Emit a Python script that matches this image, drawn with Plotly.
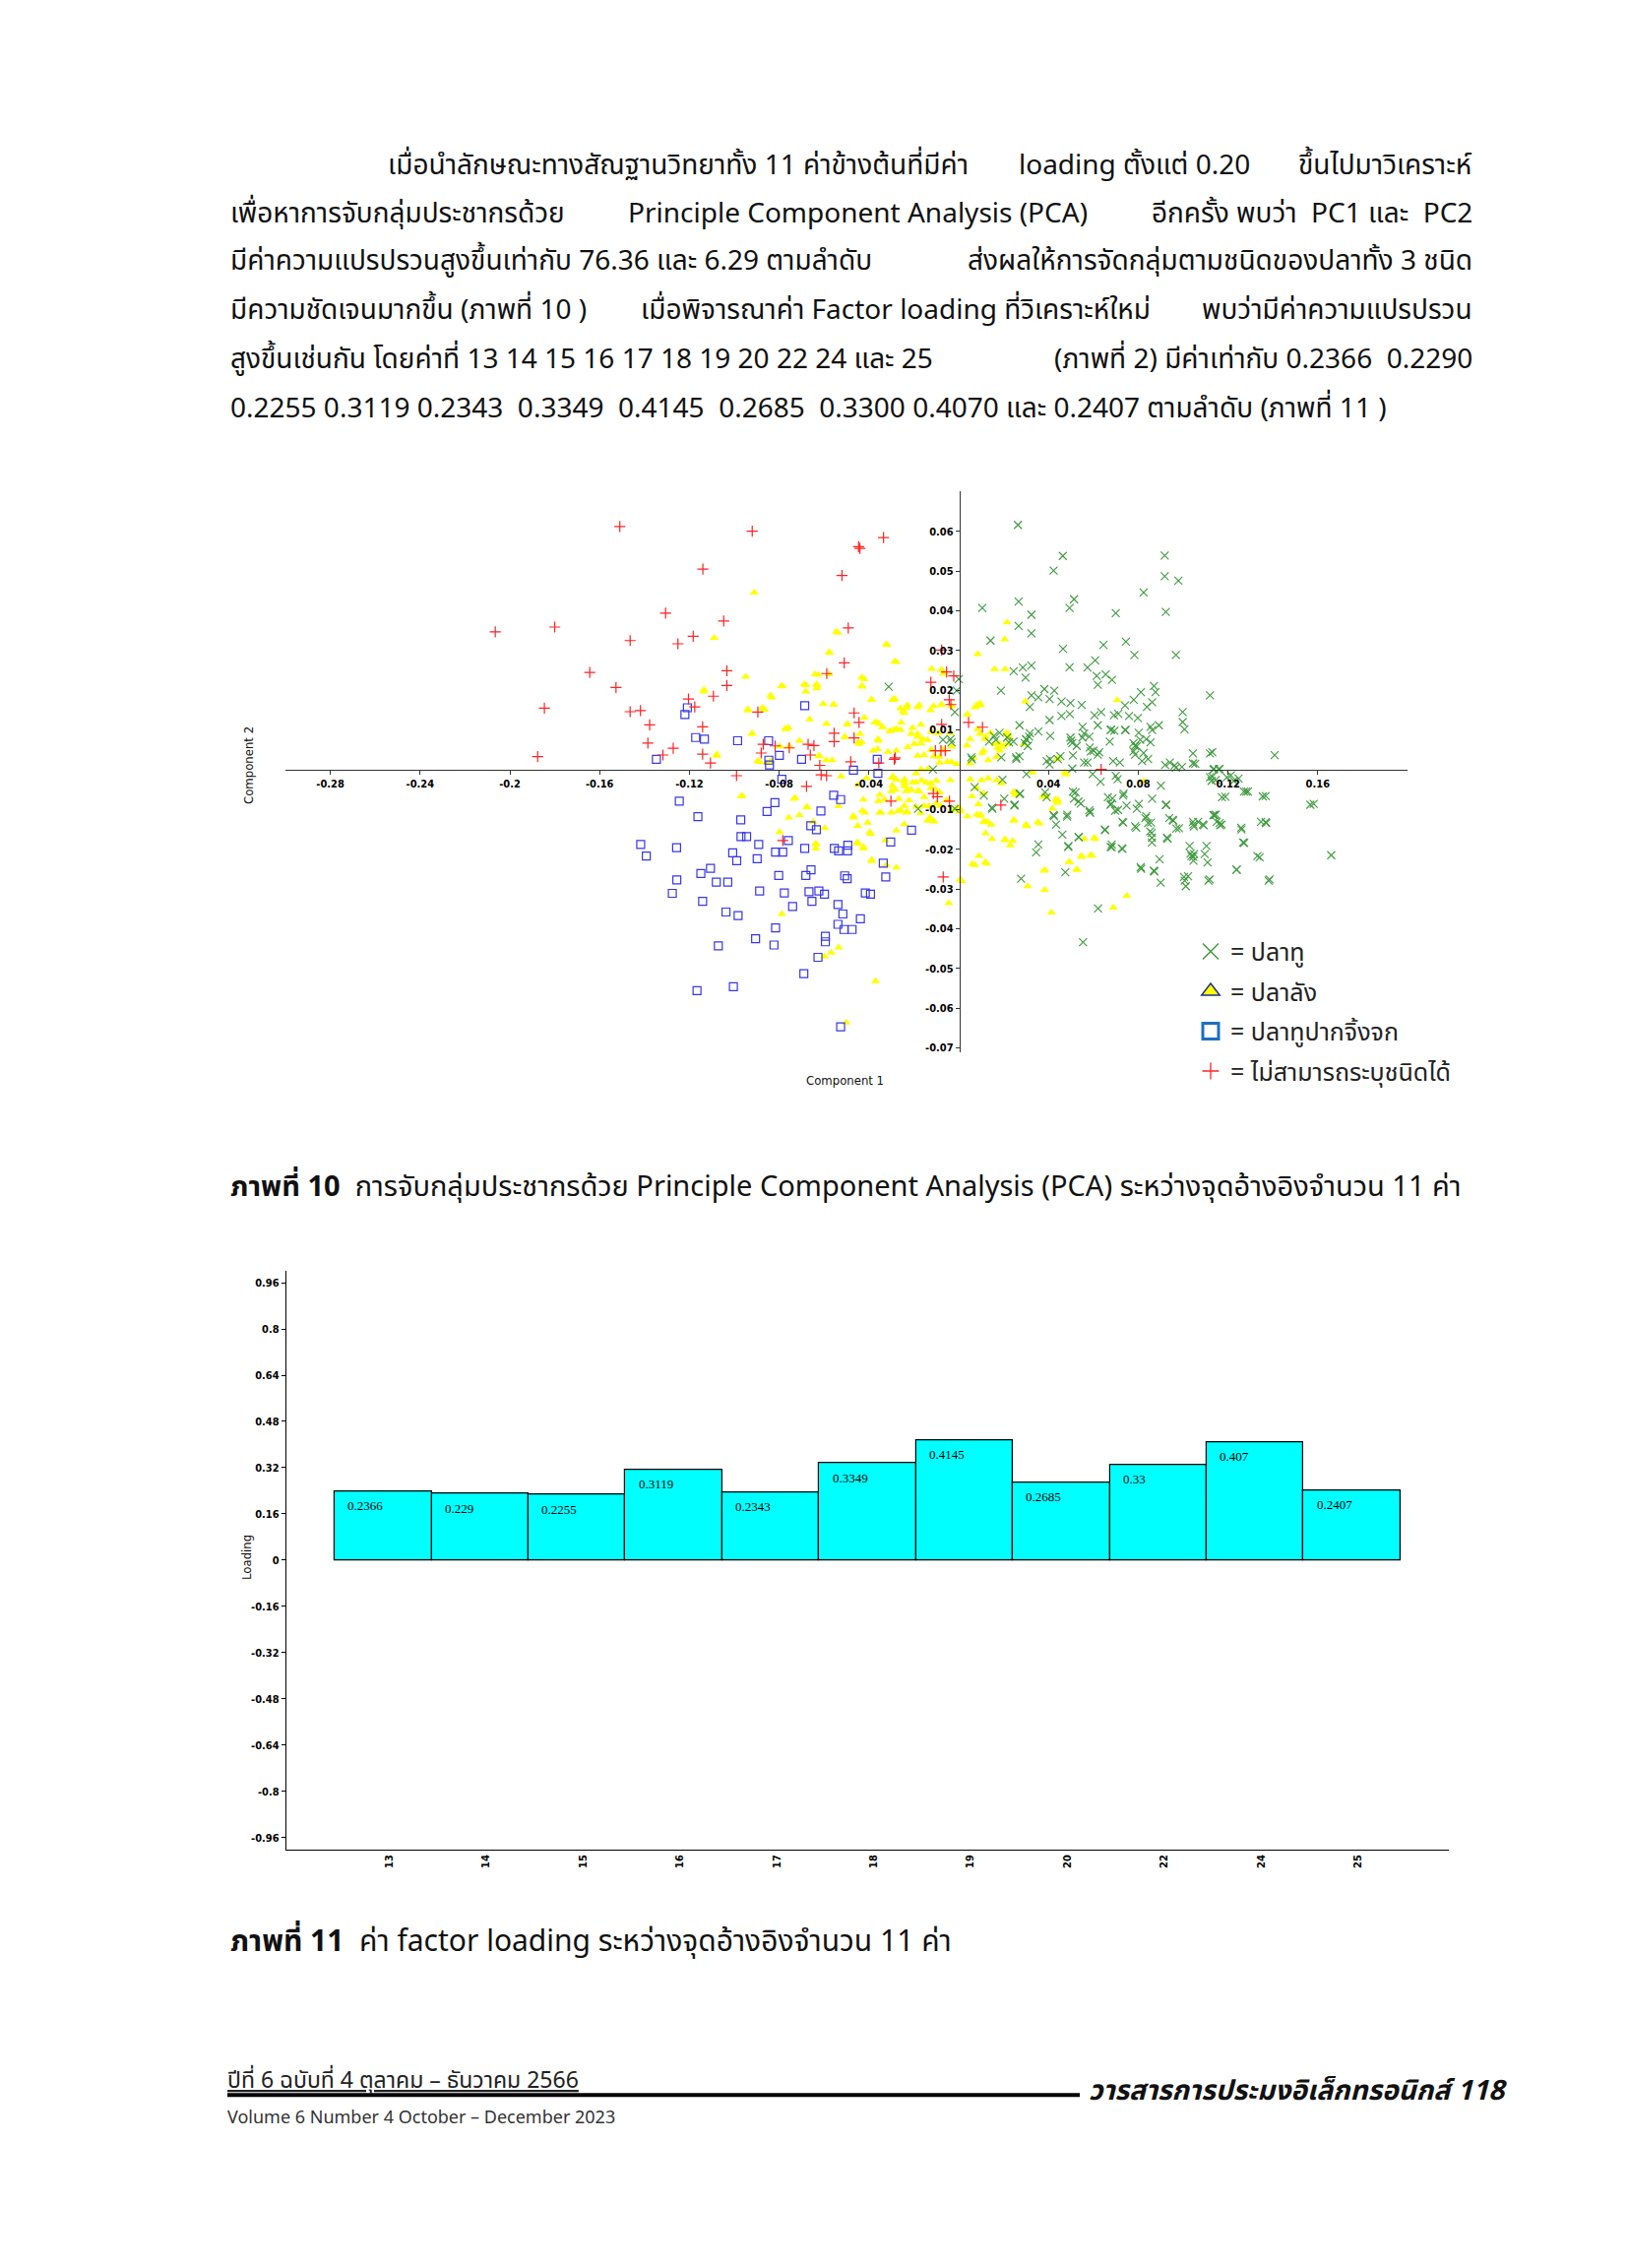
import plotly.graph_objects as go

W, H = 1654, 2304
def fx(px): return px / W
def fy(py): return 1 - py / H

THAI = "Noto Sans Thai, Noto Sans Thai UI, Noto Sans, sans-serif"
AXF = "DejaVu Sans Condensed, DejaVu Sans, sans-serif"

# ---------------- PCA scatter data (Component 1, Component 2) ----------------
green_pts = [
    (0.0264,0.0616),(0.0464,0.0538),(0.0423,0.0501),(0.0918,0.0539),(0.0918,0.0487),(0.0979,0.0476),
    (0.0824,0.0446),(0.0514,0.0429),(0.0494,0.0407),(0.0105,0.0407),(0.0267,0.0423),(0.0324,0.0390),
    (0.0700,0.0394),(0.0923,0.0397),(0.0267,0.0362),(0.0324,0.0343),(0.0142,0.0325),(0.0465,0.0304),
    (0.0645,0.0314),(0.0745,0.0322),(0.0783,0.0289),(0.0968,0.0289),(0.0608,0.0275),(0.0494,0.0258),
    (0.0574,0.0257),(0.0245,0.0248),(0.0286,0.0257),(0.0324,0.0262),(0.0298,0.0232),(0.0615,0.0236),
    (0.0655,0.0240),(0.0683,0.0226),(0.0620,0.0214),(0.0188,0.0199),(0.0382,0.0203),(0.0426,0.0199),
    (0.0870,0.0211),(0.0877,0.0195),(0.0812,0.0195),(0.0780,0.0176),(0.1120,0.0187),(0.0324,0.0187),
    (0.0355,0.0182),(0.0405,0.0178),(0.0458,0.0172),(0.0498,0.0168),(0.0548,0.0163),(0.0741,0.0162),
    (0.0839,0.0158),(0.0862,0.0170),(0.0317,0.0158),(0.0605,0.0137),(0.0635,0.0145),(0.0692,0.0137),
    (0.0711,0.0141),(0.0759,0.0135),(0.0798,0.0130),(0.0998,0.0145),(0.0405,0.0125),(0.0458,0.0135),
    (0.0495,0.0140),(0.0892,0.0112),(0.0855,0.0108),(0.0862,0.0100),(0.0998,0.0120),(0.1006,0.0102),
    (0.0271,0.0112),(0.0355,0.0096),(0.0552,0.0108),(0.0620,0.0112),(0.0680,0.0101),(0.0741,0.0100),
    (0.0802,0.0093),(0.0498,0.0081),(0.0506,0.0067),(0.0559,0.0091),(0.0582,0.0083),(0.0673,0.0071),
    (0.0779,0.0067),(0.0794,0.0059),(0.0809,0.0075),(0.0855,0.0069),(0.0314,0.0083),(0.0294,0.0067),
    (0.0302,0.0075),(0.0317,0.0092),(0.0244,0.0071),(0.0165,0.0075),(0.0135,0.0071),(0.0256,0.0031),
    (0.0271,0.0034),(0.0392,0.0022),(0.0405,0.0013),(0.0453,0.0034),(0.0589,0.0046),(0.0620,0.0038),
    (0.0559,0.0018),(0.0574,0.0018),(0.0688,0.0022),(0.0718,0.0018),(0.0779,0.0046),(0.0786,0.0038),
    (0.0824,0.0042),(0.0817,0.0022),(0.1044,0.0041),(0.1120,0.0041),(0.1408,0.0037),(0.1044,0.0016),
    (0.0941,0.0018),(0.0968,0.0005),(0.0506,0.0003),(0.0059,0.0026),(-0.0032,0.0069),
    (0.0071,-0.0044),(0.0112,-0.0065),(0.0150,-0.0098),(0.0195,-0.0025),(0.0203,-0.0073),(0.0248,-0.0090),
    (0.0271,-0.0061),(0.0302,-0.0011),(0.0385,-0.0057),(0.0392,-0.0069),(0.0423,-0.0114),(0.0483,-0.0118),
    (0.0514,-0.0073),(0.0544,-0.0085),(0.0521,-0.0057),(0.0582,-0.0102),(0.0597,-0.0011),(0.0632,-0.0030),
    (0.0665,-0.0069),(0.0680,-0.0085),(0.0708,-0.0024),(0.0700,-0.0015),(0.0733,-0.0065),(0.0748,-0.0090),
    (0.0794,-0.0098),(0.0832,-0.0122),(0.0862,-0.0073),(0.0901,-0.0040),(0.0923,-0.0089),(0.0938,-0.0122),
    (0.1120,-0.0019),(0.1127,-0.0028),(0.1135,0.0001),(0.1158,0.0001),(0.1173,-0.0069),(0.1195,-0.0019),
    (0.1226,-0.0028),(0.1271,-0.0055),(0.1355,-0.0067),(0.1567,-0.0088),(0.1135,-0.0114),(0.1347,-0.0131),
    (0.1044,-0.0131),(0.1067,-0.0131),(0.1150,-0.0131),
    (0.0148,-0.0095),(0.0249,-0.0088),(0.0274,-0.0060),(0.0355,-0.0188),(0.0345,-0.0208),(0.0425,-0.0117),
    (0.0434,-0.0138),(0.0462,-0.0163),(0.0484,-0.0113),(0.0534,-0.0169),(0.0489,-0.0192),(0.0475,-0.0258),
    (0.0278,-0.0274),(0.0509,-0.0055),(0.0534,-0.0080),(0.0584,-0.0107),(0.0601,0.0048),(0.0626,0.0044),
    (0.0652,-0.0150),(0.0677,-0.0088),(0.0685,-0.0072),(0.0682,-0.0188),(0.0677,-0.0194),(0.0727,-0.0198),
    (0.0697,-0.0103),(0.0710,-0.0101),(0.0730,-0.0131),(0.0735,-0.0060),(0.0786,-0.0142),(0.0803,-0.0086),
    (0.0811,-0.0245),(0.0836,-0.0117),(0.0844,-0.0134),(0.0853,-0.0155),(0.0861,-0.0171),(0.0870,-0.0254),
    (0.0861,-0.0183),(0.0895,-0.0225),(0.0900,-0.0284),(0.0925,-0.0088),(0.0928,-0.0171),(0.0954,-0.0126),
    (0.0970,-0.0148),(0.1004,-0.0270),(0.1012,-0.0293),(0.1007,-0.0279),(0.1029,-0.0192),(0.1037,-0.0217),
    (0.1049,-0.0212),(0.1046,-0.0229),(0.1046,-0.0138),(0.1088,-0.0138),(0.1096,-0.0212),(0.1104,-0.0192),
    (0.1109,-0.0233),(0.1113,-0.0279),(0.1146,-0.0113),(0.1163,-0.0134),(0.1172,-0.0138),(0.1188,-0.0068),
    (0.1239,-0.0251),(0.1259,-0.0146),(0.1267,-0.0183),(0.1289,-0.0055),(0.1331,-0.0217),(0.1368,-0.0066),
    (0.1368,-0.0132),(0.1381,-0.0279),(0.1582,-0.0086),(0.1660,-0.0215),(0.0621,-0.0349),(0.0554,-0.0434),
    (0.0584,0.0056),(0.0509,0.0036),(0.0408,0.0026),(0.0257,0.0027),(0.0308,0.0060),(0.0300,0.0077),
    (0.0190,0.0031),(0.0216,0.0081),(0.0157,0.0085),(0.0182,0.0093),(0.0056,0.0031),(-0.0036,0.0077),
    (0.0224,0.0069),(0.0408,0.0085),(0.0442,0.0027),(0.0501,0.0073),(0.0526,0.0060),(0.0551,0.0081),
    (0.0677,0.0100),(0.0694,0.0098),(0.0744,0.0100),(0.0786,0.0060),(0.0836,0.0077),(0.0844,0.0027),
    (0.0920,0.0012),(0.0962,0.0011),(0.0995,0.0007),(0.1130,0.0044),(0.1054,0.0015),(0.1138,0.0002),
    (0.1163,0.0002),(0.1213,-0.0014),(0.1247,-0.0022),(0.1281,-0.0055),(0.1130,-0.0018),(0.1146,-0.0026),
    (0.1045,-0.0219),(0.1033,-0.0211),(0.1022,-0.0268),(0.1118,-0.0276),(0.0813,-0.0249),(0.0872,-0.0256),
    (0.1238,-0.0252),(0.1341,-0.0220),(0.1385,-0.0276),(0.1370,-0.0134),(0.1260,-0.0150),(0.1272,-0.0184),
    (0.1092,-0.0140),(0.1048,-0.0143),(0.1139,-0.0114),(0.1165,-0.0140),(0.0982,-0.0147),(0.0956,-0.0128),
    (0.0931,-0.0174),(0.0857,-0.0133),(0.0860,-0.0159),(0.0791,-0.0146),(0.0730,-0.0199),(0.0682,-0.0195),
    (0.0652,-0.0152),(0.0733,-0.0133),(0.0535,-0.0170),(0.0488,-0.0194),(0.0586,-0.0108),
    (0.0000,0.0228),(-0.0009,0.0199),(-0.0312,0.0209),(-0.0017,0.0145),(-0.0070,0.0075),(-0.0115,0.0001),
    (-0.0181,-0.0098),(-0.0017,-0.0098),
]

yellow_pts = [
    (-0.0538,0.0345),(-0.0318,0.0314),(-0.0574,0.0294),(-0.0278,0.0271),(0.0215,0.0371),(0.0205,0.0328),
    (0.0085,0.0291),(0.0160,0.0253),(0.0207,0.0253),(-0.0120,0.0254),(-0.0069,0.0242),(-0.0626,0.0239),
    (-0.0680,0.0213),(-0.0630,0.0213),(-0.0421,0.0228),(-0.0429,0.0209),(-0.0558,0.0164),(-0.0388,0.0177),
    (-0.0293,0.0177),(-0.0242,0.0143),(-0.0183,0.0157),(-0.0125,0.0150),(-0.0077,0.0164),(0.0073,0.0157),
    (0.0095,0.0167),(0.0039,0.0139),(0.0297,0.0172),(-0.0498,0.0114),(-0.0373,0.0119),(-0.0361,0.0119),
    (-0.0339,0.0107),(-0.0307,0.0097),(-0.0278,0.0102),(-0.0256,0.0119),(-0.0212,0.0090),(-0.0183,0.0090),
    (-0.0161,0.0077),(-0.0139,0.0075),(-0.0440,0.0090),(-0.0444,0.0065),(-0.0359,0.0077),(-0.0508,0.0083),
    (-0.0623,0.0036),(-0.0564,0.0024),(-0.0381,0.0048),(-0.0315,0.0045),(-0.0278,0.0048),(-0.0227,0.0057),
    (-0.0198,0.0065),(-0.0183,0.0035),(-0.0154,0.0037),(-0.0110,0.0034),(-0.0086,0.0033),(-0.0051,0.0020),
    (0.0037,0.0061),(0.0051,0.0077),(0.0095,0.0090),(0.0085,0.0102),(0.0117,0.0077),(0.0110,0.0048),
    (0.0161,0.0065),(0.0183,0.0048),(0.0198,0.0058),(0.0220,0.0090),(0.0216,0.0065),(0.0290,0.0065),
    (0.0051,0.0016),(0.0132,0.0024),(0.0169,0.0032),(0.0440,0.0028),(-0.0447,-0.0038),(-0.0410,-0.0021),
    (-0.0293,-0.0017),(-0.0242,-0.0024),(-0.0190,-0.0009),(-0.0165,-0.0027),(-0.0296,-0.0040),(-0.0242,-0.0041),
    (-0.0212,-0.0050),(-0.0125,-0.0034),(-0.0103,-0.0050),(-0.0037,-0.0026),(-0.0425,-0.0075),(-0.0352,-0.0063),
    (-0.0330,-0.0075),(-0.0242,-0.0091),(-0.0190,-0.0093),(-0.0154,-0.0091),(-0.0132,-0.0092),(-0.0081,-0.0091),
    (-0.0007,-0.0095),(-0.0469,-0.0116),(-0.0418,-0.0108),(-0.0352,-0.0108),(-0.0450,-0.0141),(-0.0392,-0.0161),
    (-0.0139,-0.0128),(-0.0110,-0.0130),(-0.0242,-0.0137),(-0.0278,-0.0153),(-0.0451,-0.0186),(-0.0326,-0.0178),
    (-0.0425,-0.0198),(-0.0637,-0.0186),(-0.0674,-0.0095),(-0.0388,-0.0230),(-0.0322,-0.0240),(-0.0278,-0.0246),
    (0.0051,-0.0024),(0.0102,-0.0026),(0.0132,-0.0022),(0.0169,-0.0026),(0.0190,-0.0034),(0.0080,-0.0046),
    (0.0110,-0.0059),(0.0059,-0.0067),(0.0088,-0.0087),(0.0007,-0.0099),(0.0252,-0.0063),(0.0388,-0.0067),
    (0.0440,-0.0083),(0.0095,-0.0116),(0.0117,-0.0132),(0.0245,-0.0128),(0.0304,-0.0142),(0.0360,-0.0135),
    (0.0120,-0.0160),(0.0205,-0.0177),(0.0230,-0.0190),(0.0559,-0.0174),(0.0149,-0.0174),(0.0073,-0.0240),
    (0.0125,-0.0236),(0.0007,-0.0276),(0.0384,-0.0252),(0.0494,-0.0233),(0.0528,-0.0252),(0.0550,-0.0219),
    (0.0594,-0.0216),(0.0432,-0.0075),
    (-0.1136,0.0197),(-0.1077,0.0035),(-0.0920,0.0091),(-0.0938,0.0149),(-0.0865,0.0151),(-0.0833,0.0182),
    (-0.0784,0.0210),(-0.0770,0.0102),(-0.0758,0.0106),(-0.0681,0.0197),(-0.0633,0.0205),(-0.0664,0.0127),
    (-0.0710,0.0073),(-0.0557,0.0164),(-0.0495,0.0115),(-0.0506,0.0082),(-0.0389,0.0176),(-0.0420,0.0131),
    (-0.0433,0.0069),(-0.0354,0.0115),(-0.0292,0.0176),(-0.0306,0.0098),(-0.0277,0.0102),(-0.0247,0.0147),
    (-0.0232,0.0156),(-0.0358,0.0073),(-0.0361,0.0052),(-0.0446,0.0069),(-0.0887,0.0020),(-0.0855,0.0017),
    (-0.0621,0.0034),(-0.0524,-0.0017),(-0.0590,0.0024),(-0.0970,-0.0067),(-0.0729,-0.0071),(-0.0677,-0.0093),
    (-0.0757,-0.0120),(-0.0710,-0.0114),(-0.0798,-0.0157),(-0.0648,-0.0131),(-0.0597,-0.0147),(-0.0634,-0.0188),
    (-0.0535,-0.0092),(-0.0469,-0.0120),(-0.0429,-0.0103),(-0.0406,-0.0133),(-0.0396,-0.0157),(-0.0451,-0.0182),
    (-0.0425,-0.0194),(-0.0388,-0.0227),(-0.0347,-0.0108),(-0.0300,-0.0108),(-0.0270,-0.0104),(-0.0234,-0.0108),
    (-0.0358,-0.0079),(-0.0300,-0.0054),(-0.0234,-0.0054),(-0.0183,-0.0054),(-0.0278,-0.0025),(-0.0242,-0.0034),
    (-0.0205,-0.0032),(-0.0788,-0.0363),(-0.0535,-0.0447),(-0.0568,-0.0460),(-0.0598,-0.0470),(-0.0370,-0.0532),
    (-0.0501,-0.0636),(-0.0637,-0.0198),
    (-0.1089,0.0332),(-0.0911,0.0446),(-0.0546,0.0347),(-0.0323,0.0316),(-0.0285,0.0273),(-0.0578,0.0296),
    (-0.0640,0.0240),(-0.0578,0.0240),(-0.0949,0.0234),(-0.0790,0.0211),(-0.0688,0.0215),(-0.0634,0.0215),
    (-0.0838,0.0187),(-0.0432,0.0232),(-0.0432,0.0211),(-0.1135,0.0201),(-0.0874,0.0156),(-0.0939,0.0152),
    (-0.0604,0.0166),(-0.0589,0.0116),(-0.0772,0.0104),(-0.0797,0.0059),(-0.0755,0.0059),(-0.0922,0.0091),
    (-0.1078,0.0039),(-0.0895,0.0022),(-0.0838,0.0022),(-0.0964,-0.0066),(-0.0734,-0.0073),
    (0.0111,-0.0131),(0.0127,-0.0131),(0.0098,-0.0113),(0.0081,-0.0113),(0.0145,-0.0138),(0.0207,-0.0175),
    (0.0241,-0.0179),(0.0300,-0.0138),(0.0353,-0.0132),(0.0246,-0.0126),(0.0090,-0.0217),(0.0118,-0.0233),
    (0.0061,-0.0237),(0.0014,-0.0280),(-0.0044,-0.0336),(0.0308,-0.0293),(0.0380,-0.0254),(0.0383,-0.0302),
    (0.0413,-0.0359),(0.0492,-0.0231),(0.0526,-0.0250),(0.0546,-0.0217),(0.0588,-0.0215),(0.0605,-0.0171),
    (0.0689,-0.0347),(0.0749,-0.0317),(0.0246,-0.0055),(0.0375,-0.0068),(0.0442,-0.0076),(0.0006,-0.0105),
    (0.0039,-0.0117),(-0.0128,-0.0121),(-0.0112,-0.0128),(-0.0170,-0.0109),
    (0.0706,0.0175),(0.0608,-0.0174),(0.0479,-0.0012),(0.0825,-0.0029),
    (0.0079,0.0162),(0.0097,0.0162),(0.0039,0.0139),(0.0120,0.0083),(0.0142,0.0093),(0.0211,0.0093),
    (0.0223,0.0083),(0.0180,0.0067),(0.0173,0.0055),(0.0105,0.0042),(0.0067,0.0030),(0.0441,0.0028),
    (0.0329,-0.0007),(0.0473,-0.0007),(0.0385,-0.0066),(0.0418,-0.0098),(0.0438,-0.0080),(0.0252,-0.0057),
    (-0.0077,0.0252),(-0.0285,0.0178),(-0.0259,0.0155),(-0.0229,0.0163),(-0.0176,0.0163),(-0.0112,0.0160),
    (-0.0077,0.0163),(-0.0032,0.0160),(-0.0168,0.0113),(-0.0206,0.0105),(-0.0259,0.0100),(-0.0289,0.0100),
    (-0.0183,0.0083),(-0.0123,0.0095),(-0.0092,0.0092),(-0.0039,0.0092),(-0.0168,0.0066),(-0.0123,0.0050),
    (-0.0070,0.0050),(-0.0032,0.0058),(-0.0168,0.0001),(-0.0138,0.0001),(-0.0085,0.0018),(-0.0032,0.0020),
    (-0.0009,0.0014),(-0.0297,-0.0020),(-0.0244,-0.0028),(-0.0191,-0.0032),(-0.0145,-0.0032),(-0.0100,-0.0028),
    (-0.0282,-0.0050),(-0.0229,-0.0050),(-0.0176,-0.0054),(-0.0123,-0.0046),(-0.0085,-0.0057),(-0.0267,-0.0073),
    (-0.0221,-0.0077),(-0.0153,-0.0069),(-0.0100,-0.0085),(-0.0055,-0.0077),(-0.0259,-0.0102),(-0.0229,-0.0106),
    (-0.0130,-0.0122),(-0.0032,-0.0102),
]

blue_pts = [
    (-0.0686,0.0161),(-0.1209,0.0156),(-0.1220,0.0139),(-0.1172,0.0081),(-0.1133,0.0077),(-0.0985,0.0073),
    (-0.0847,0.0073),(-0.1347,0.0026),(-0.0846,0.0024),(-0.0843,0.0012),(-0.0799,0.0036),(-0.0700,0.0026),
    (-0.0363,0.0026),(-0.0469,-0.0001),(-0.0360,-0.0009),(-0.0788,-0.0024),(-0.1245,-0.0079),(-0.1162,-0.0118),
    (-0.0819,-0.0083),(-0.0854,-0.0105),(-0.0557,-0.0064),(-0.0526,-0.0075),(-0.0614,-0.0104),(-0.0971,-0.0126),
    (-0.0659,-0.0141),(-0.0634,-0.0151),(-0.0210,-0.0152),(-0.1417,-0.0188),(-0.1392,-0.0217),(-0.1257,-0.0196),
    (-0.0970,-0.0168),(-0.0945,-0.0168),(-0.0759,-0.0178),(-0.0891,-0.0188),(-0.1007,-0.0209),(-0.0989,-0.0229),
    (-0.0898,-0.0224),(-0.0816,-0.0207),(-0.0784,-0.0207),(-0.0686,-0.0198),(-0.0554,-0.0198),(-0.0535,-0.0204),
    (-0.0495,-0.0204),(-0.0494,-0.0190),(-0.0303,-0.0182),(-0.0336,-0.0235),(-0.0325,-0.0270),(-0.0658,-0.0252),
    (-0.0681,-0.0266),(-0.0802,-0.0266),(-0.0508,-0.0267),(-0.0497,-0.0274),(-0.1106,-0.0248),(-0.1149,-0.0261),
    (-0.1256,-0.0277),(-0.1080,-0.0283),(-0.1029,-0.0283),(-0.1276,-0.0311),(-0.1141,-0.0331),(-0.0887,-0.0305),
    (-0.0777,-0.0310),(-0.0667,-0.0307),(-0.0623,-0.0305),(-0.0598,-0.0313),(-0.0654,-0.0331),(-0.0740,-0.0344),
    (-0.0538,-0.0339),(-0.0416,-0.0310),(-0.0393,-0.0313),(-0.1037,-0.0358),(-0.0983,-0.0367),(-0.0516,-0.0363),
    (-0.0438,-0.0375),(-0.0538,-0.0389),(-0.0511,-0.0402),(-0.0475,-0.0402),(-0.0816,-0.0398),(-0.0905,-0.0425),
    (-0.0823,-0.0441),(-0.1071,-0.0443),(-0.0594,-0.0419),(-0.0594,-0.0433),(-0.0627,-0.0472),(-0.0690,-0.0513),
    (-0.1166,-0.0556),(-0.1004,-0.0546),(-0.0526,-0.0647),
]

red_pts = [
    (-0.1510,0.0612),(-0.0920,0.0600),(-0.0335,0.0584),(-0.0446,0.0561),(-0.0440,0.0557),(-0.1140,0.0505),
    (-0.0520,0.0489),(-0.1306,0.0394),(-0.1047,0.0374),(-0.2065,0.0347),(-0.1800,0.0359),(-0.1464,0.0325),
    (-0.1183,0.0336),(-0.1251,0.0317),(-0.0492,0.0357),(-0.0510,0.0269),(-0.0588,0.0242),(-0.1644,0.0245),
    (-0.1527,0.0207),(-0.1033,0.0249),(-0.1033,0.0212),(-0.1204,0.0178),(-0.1093,0.0185),(-0.1846,0.0155),
    (-0.1464,0.0146),(-0.1418,0.0149),(-0.1176,0.0158),(-0.0895,0.0145),(-0.1377,0.0113),(-0.1141,0.0108),
    (-0.1385,0.0067),(-0.1272,0.0054),(-0.1318,0.0037),(-0.1141,0.0039),(-0.1106,0.0017),(-0.1876,0.0033),
    (-0.0880,0.0042),(-0.0871,0.0064),(-0.0818,0.0060),(-0.0755,0.0055),(-0.0671,0.0064),(-0.0645,0.0061),
    (-0.0661,0.0037),(-0.0619,0.0011),(-0.0555,0.0092),(-0.0555,0.0071),(-0.0466,0.0143),(-0.0444,0.0119),
    (-0.0466,0.0080),(-0.0481,0.0020),(-0.0356,0.0017),(-0.0287,0.0026),(-0.0124,0.0220),(-0.0054,0.0246),
    (-0.0022,0.0236),(-0.0076,0.0301),(-0.0042,0.0176),(-0.0035,0.0164),(-0.0076,0.0114),(-0.0104,0.0048),
    (-0.0079,0.0048),(-0.0060,0.0048),(0.0044,0.0119),(0.0106,0.0107),(-0.0990,-0.0015),(-0.0678,-0.0042),
    (-0.0613,-0.0013),(-0.0302,-0.0079),(-0.0113,-0.0060),(-0.0095,-0.0068),(-0.0041,-0.0079),(-0.0069,-0.0270),
    (0.0188,-0.0089),(-0.0784,-0.0178),(0.0635,0.0001),(-0.0589,-0.0015),(-0.0283,0.0030),
]

x_tick_vals = [-0.28, -0.24, -0.2, -0.16, -0.12, -0.08, -0.04, 0.04, 0.08, 0.12, 0.16]
x_tick_text = ["-0.28", "-0.24", "-0.2", "-0.16", "-0.12", "-0.08", "-0.04", "0.04", "0.08", "0.12", "0.16"]
y_tick_vals = [0.06, 0.05, 0.04, 0.03, 0.02, 0.01, -0.01, -0.02, -0.03, -0.04, -0.05, -0.06, -0.07]
y_tick_text = ["0.06", "0.05", "0.04", "0.03", "0.02", "0.01", "-0.01", "-0.02", "-0.03", "-0.04", "-0.05", "-0.06", "-0.07"]

legend_names = ["= ปลาทู", "= ปลาลัง", "= ปลาทูปากจิ้งจก", "= ไม่สามารถระบุชนิดได้"]

# ---------------- factor loading bar data ----------------
bar_labels = ["13", "14", "15", "16", "17", "18", "19", "20", "22", "24", "25"]
bar_values = [0.2366, 0.2290, 0.2255, 0.3119, 0.2343, 0.3349, 0.4145, 0.2685, 0.3300, 0.4070, 0.2407]
bar_y_ticks = [0.96, 0.8, 0.64, 0.48, 0.32, 0.16, 0, -0.16, -0.32, -0.48, -0.64, -0.8, -0.96]
bar_y_text = ["0.96", "0.8", "0.64", "0.48", "0.32", "0.16", "0", "-0.16", "-0.32", "-0.48", "-0.64", "-0.8", "-0.96"]

# ---------------- page text ----------------
para_lines = [
    ["เมื่อนำลักษณะทางสัณฐานวิทยาทั้ง 11 ค่าข้างต้นที่มีค่า", "loading ตั้งแต่ 0.20", "ขึ้นไปมาวิเคราะห์"],
    ["เพื่อหาการจับกลุ่มประชากรด้วย", "Principle Component Analysis (PCA)", "อีกครั้ง พบว่า  PC1 และ  PC2"],
    ["มีค่าความแปรปรวนสูงขึ้นเท่ากับ 76.36 และ 6.29 ตามลำดับ", "", "ส่งผลให้การจัดกลุ่มตามชนิดของปลาทั้ง 3 ชนิด"],
    ["มีความชัดเจนมากขึ้น (ภาพที่ 10 )", "เมื่อพิจารณาค่า Factor loading ที่วิเคราะห์ใหม่", "พบว่ามีค่าความแปรปรวน"],
    ["สูงขึ้นเช่นกัน โดยค่าที่ 13 14 15 16 17 18 19 20 22 24 และ 25", "", "(ภาพที่ 2) มีค่าเท่ากับ 0.2366  0.2290"],
    ["0.2255 0.3119 0.2343  0.3349  0.4145  0.2685  0.3300 0.4070 และ 0.2407 ตามลำดับ (ภาพที่ 11 )", "", ""],
]
para_y = [169, 218, 266, 316, 366, 416]
para_left = [392, 232, 232, 232, 232, 232]
para_mid = [1152, 872, 0, 910, 0, 0]
caption10 = "<b>ภาพที่ 10</b>  การจับกลุ่มประชากรด้วย Principle Component Analysis (PCA) ระหว่างจุดอ้างอิงจำนวน 11 ค่า"
caption11 = "<b>ภาพที่ 11</b>  ค่า factor loading ระหว่างจุดอ้างอิงจำนวน 11 ค่า"
footer_th = "ปีที่ 6 ฉบับที่ 4 ตุลาคม – ธันวาคม 2566"
footer_en = "Volume 6 Number 4 October – December 2023"
footer_journal = "วารสารการประมงอิเล็กทรอนิกส์ 118"

fig = go.Figure()

def xy(pts):
    return [p[0] for p in pts], [p[1] for p in pts]

gx, gy = xy(green_pts)
yx, yy = xy(yellow_pts)
bx, by = xy(blue_pts)
rx, ry = xy(red_pts)

fig.add_trace(go.Scatter(x=yx, y=yy, mode="markers", showlegend=False, hoverinfo="skip",
                         marker=dict(symbol="triangle-up", size=8, color="#ffff00", line=dict(width=0))))
fig.add_trace(go.Scatter(x=gx, y=gy, mode="markers", showlegend=False, hoverinfo="skip",
                         marker=dict(symbol="x-thin", size=8, color="#3f9a3f", line=dict(width=1.1, color="#3f9a3f"))))
fig.add_trace(go.Scatter(x=bx, y=by, mode="markers", showlegend=False, hoverinfo="skip",
                         marker=dict(symbol="square-open", size=8, color="#3838e6", line=dict(width=1.2, color="#3838e6"))))
fig.add_trace(go.Scatter(x=rx, y=ry, mode="markers", showlegend=False, hoverinfo="skip",
                         marker=dict(symbol="cross-thin", size=8, color="#ff2222", line=dict(width=1.2, color="#ff2222"))))

leg_styles = [
    dict(symbol="x-thin", size=16, color="#3f9a3f", line=dict(width=1.5, color="#3f9a3f")),
    dict(symbol="triangle-up", size=16, color="#ffff00", line=dict(width=1.5, color="#1f2f8f")),
    dict(symbol="square-open", size=16, color="#1a6fc4", line=dict(width=3, color="#1a6fc4")),
    dict(symbol="cross-thin", size=12, color="#ff2222", line=dict(width=1.3, color="#ff2222")),
]
for i, (nm, st) in enumerate(zip(legend_names, leg_styles)):
    fig.add_trace(go.Scatter(x=[None], y=[None], mode="markers", name=nm, legendgroup=f"g{i}",
                             marker=st, showlegend=True))

fig.add_trace(go.Bar(x=bar_labels, y=bar_values, xaxis="x2", yaxis="y2", showlegend=False,
                     marker=dict(color="#00ffff", line=dict(color="black", width=1.2)), hoverinfo="skip"))

ann = []
for i, v in enumerate(bar_values):
    ann.append(dict(x=i, y=v, xref="x2", yref="y2", text=f"{v:g}", showarrow=False,
                    xanchor="left", yanchor="top", xshift=-38, yshift=-5,
                    font=dict(family="Liberation Serif, serif", size=13, color="black")))

for line, yc, xl, xm in zip(para_lines, para_y, para_left, para_mid):
    a, b, c = line
    f = dict(family=THAI, size=28, color="#111")
    if a:
        ann.append(dict(x=fx(xl), y=fy(yc), xref="paper", yref="paper", text=a, showarrow=False,
                        xanchor="left", yanchor="middle", font=f))
    if b:
        ann.append(dict(x=fx(xm), y=fy(yc), xref="paper", yref="paper", text=b, showarrow=False,
                        xanchor="center", yanchor="middle", font=f))
    if c:
        ann.append(dict(x=fx(1498), y=fy(yc), xref="paper", yref="paper", text=c, showarrow=False,
                        xanchor="right", yanchor="middle", font=f))

ann += [
    dict(x=fx(232), y=fy(1208), xref="paper", yref="paper", text=caption10, showarrow=False,
         xanchor="left", yanchor="middle", font=dict(family=THAI, size=29, color="#111")),
    dict(x=fx(232), y=fy(1976), xref="paper", yref="paper", text=caption11, showarrow=False,
         xanchor="left", yanchor="middle", font=dict(family=THAI, size=30, color="#111")),
    dict(x=fx(253), y=fy(779), xref="paper", yref="paper", text="Component 2", showarrow=False,
         textangle=-90, xanchor="center", yanchor="middle", font=dict(family=AXF, size=13, color="#111")),
    dict(x=fx(859), y=fy(1099), xref="paper", yref="paper", text="Component 1", showarrow=False,
         xanchor="center", yanchor="middle", font=dict(family=AXF, size=13, color="#111")),
    dict(x=fx(251), y=fy(1584), xref="paper", yref="paper", text="Loading", showarrow=False,
         textangle=-90, xanchor="center", yanchor="middle", font=dict(family=AXF, size=13, color="#111")),
    dict(x=fx(229), y=fy(2117), xref="paper", yref="paper", text=footer_th, showarrow=False,
         xanchor="left", yanchor="middle", font=dict(family=THAI, size=23, color="#222", lineposition="under")),
    dict(x=fx(229), y=fy(2154), xref="paper", yref="paper", text=footer_en, showarrow=False,
         xanchor="left", yanchor="middle", font=dict(family=THAI, size=18, color="#333")),
    dict(x=fx(1533), y=fy(2127), xref="paper", yref="paper", text=footer_journal, showarrow=False,
         xanchor="right", yanchor="middle",
         font=dict(family=THAI, size=28, color="#111", weight="bold", style="italic")),
]

tickfont = dict(family=AXF, size=11, color="black", weight="bold")

fig.update_layout(
    width=W, height=H, margin=dict(l=0, r=0, t=0, b=0),
    paper_bgcolor="white", plot_bgcolor="rgba(0,0,0,0)",
    showlegend=True,
    legend=dict(x=fx(1210), y=fy(945), xanchor="left", yanchor="top", bgcolor="rgba(0,0,0,0)",
                font=dict(family=THAI, size=25, color="#222"), tracegroupgap=5,
                itemsizing="trace", traceorder="grouped"),
    bargap=0,
    xaxis=dict(domain=[fx(290), fx(1430)], range=[-0.30, 0.20], anchor="free", position=fy(783),
               showline=True, linecolor="#333", linewidth=1.4, ticks="outside", ticklen=4,
               tickcolor="#333", tickvals=x_tick_vals, ticktext=x_tick_text, tickfont=tickfont,
               showgrid=False, zeroline=False),
    yaxis=dict(domain=[fy(1070), fy(500)], range=[-0.071, 0.07], anchor="free", position=fx(975),
               showline=True, linecolor="#333", linewidth=1.4, ticks="outside", ticklen=4,
               tickcolor="#333", tickvals=y_tick_vals, ticktext=y_tick_text, tickfont=tickfont,
               showgrid=False, zeroline=False),
    xaxis2=dict(domain=[fx(291), fx(1472)], anchor="y2", type="category", range=[-1, 11],
                showline=True, linecolor="black", linewidth=1.4, ticks="", tickangle=-90,
                ticklabelshift=6,
                tickfont=dict(family=AXF, size=11, color="black", weight="bold"),
                showgrid=False, zeroline=False),
    yaxis2=dict(domain=[fy(1881), fy(1293)], anchor="x2", range=[-1, 1],
                showline=True, linecolor="black", linewidth=1.4, ticks="outside", ticklen=4,
                tickcolor="black", tickvals=bar_y_ticks, ticktext=bar_y_text,
                tickfont=dict(family=AXF, size=11, color="black", weight="bold"),
                showgrid=False, zeroline=False),
    annotations=ann,
    shapes=[dict(type="line", xref="paper", yref="paper", x0=fx(231), x1=fx(1097),
                 y0=fy(2131), y1=fy(2131), line=dict(color="black", width=4))],
)

fig.write_html("out.html", config={"displayModeBar": False},
               post_script="document.body.style.margin='0px';")
